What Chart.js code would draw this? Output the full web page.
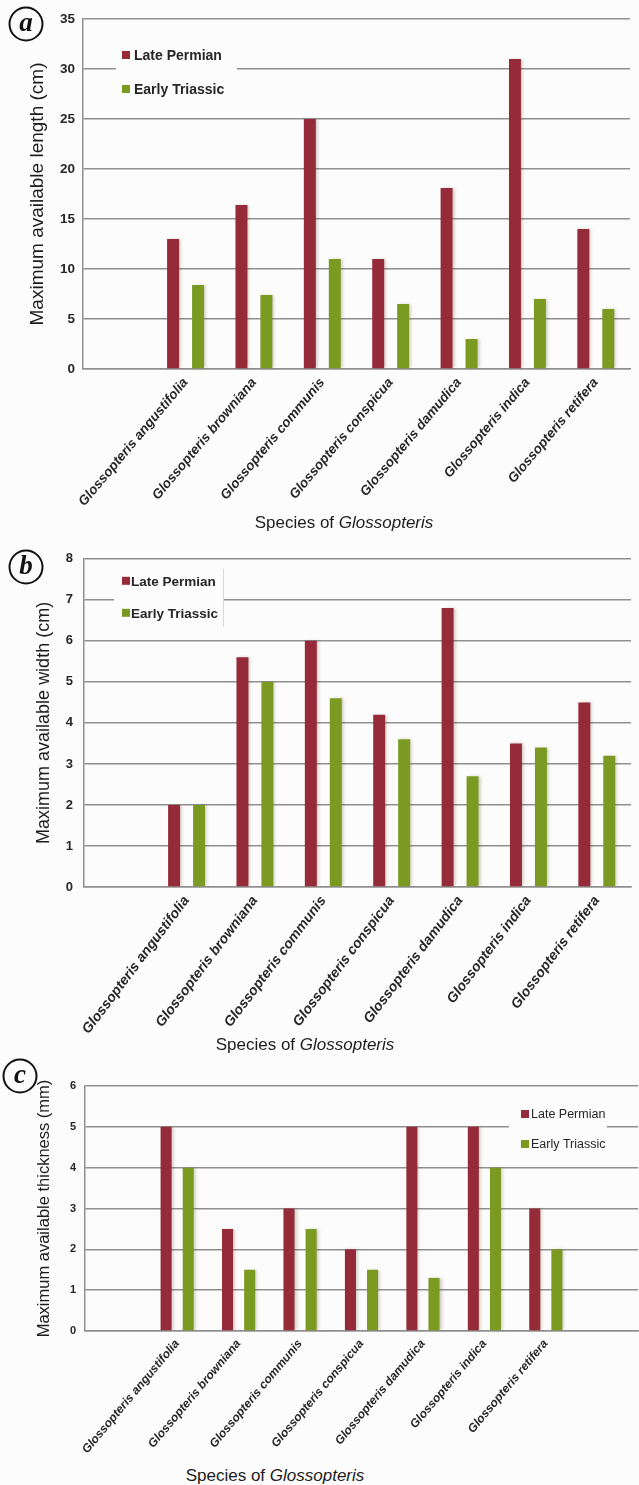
<!DOCTYPE html>
<html>
<head>
<meta charset="utf-8">
<script src="https://cdn.jsdelivr.net/npm/chart.js@4.4.1/dist/chart.umd.min.js"></script>
<style>
  body { margin: 0; background: #fcfcfc; }
  #wrap { position: relative; width: 639px; height: 1485px; background: #fcfcfc; font-family: "Liberation Sans", Arial, sans-serif; }
  canvas { position: absolute; left: 0; }
  .tag { position: absolute; width: 31px; height: 31px; border: 2px solid #111; border-radius: 50%;
         font: italic bold 27px "Liberation Serif", "Times New Roman", serif; color: #111;
         text-align: center; line-height: 27px; transform: translate(-50%, -50%); }
  .xtitle { position: absolute; font-size: 17px; color: #1c1c1c; white-space: nowrap; transform: translate(-50%, -50%); }
</style>
</head>
<body>
<div id="wrap">
  <canvas id="chartA" width="639" height="535" style="top:0px"></canvas>
  <canvas id="chartB" width="639" height="500" style="top:540px"></canvas>
  <canvas id="chartC" width="639" height="400" style="top:1065px"></canvas>
  <div class="tag" style="left:26px; top:24px">a</div>
  <div class="tag" style="left:26px; top:567px">b</div>
  <div class="tag" style="left:20px; top:1076px">c</div>
  <div class="xtitle" style="left:344px; top:523px">Species of <i>Glossopteris</i></div>
  <div class="xtitle" style="left:305px; top:1045px">Species of <i>Glossopteris</i></div>
  <div class="xtitle" style="left:275px; top:1476px">Species of <i>Glossopteris</i></div>
</div>
<script>
const species = [
  'Glossopteris angustifolia', 'Glossopteris browniana', 'Glossopteris communis',
  'Glossopteris conspicua', 'Glossopteris damudica', 'Glossopteris indica', 'Glossopteris retifera'
];
const seriesNames = ['Late Permian', 'Early Triassic'];

// (a) maximum length, cm
const lengthPermian  = [13, 16.4, 25, 11, 18.1, 31, 14];
const lengthTriassic = [8.4, 7.4, 11, 6.5, 3, 7, 6];
// (b) maximum width, cm
const widthPermian   = [2, 5.6, 6, 4.2, 6.8, 3.5, 4.5];
const widthTriassic  = [2, 5, 4.6, 3.6, 2.7, 3.4, 3.2];
// (c) maximum thickness, mm
const thickPermian   = [5, 2.5, 3, 2, 5, 5, 3];
const thickTriassic  = [4, 1.5, 2.5, 1.5, 1.3, 4, 2];

const yTicksA = [0, 5, 10, 15, 20, 25, 30, 35];
const yTicksB = [0, 1, 2, 3, 4, 5, 6, 7, 8];
const yTicksC = [0, 1, 2, 3, 4, 5, 6];

const RED = '#952a38';
const GREEN = '#7b9a22';
const GRID = '#8f8f8f';

// white box with two square swatches, placed inside the plot
const boxLegend = {
  id: 'boxLegend',
  beforeDatasetsDraw(chart, args, o) {
    const {ctx, chartArea} = chart;
    const x0 = chartArea.left + o.x, y0 = chartArea.top + o.y;
    ctx.save();
    ctx.fillStyle = '#fcfcfc';
    ctx.fillRect(x0, y0, o.w, o.h);
    if (o.edge) {
      ctx.strokeStyle = '#d8d8d8';
      ctx.lineWidth = 1;
      ctx.beginPath();
      ctx.moveTo(x0 + o.w + 0.5, y0);
      ctx.lineTo(x0 + o.w + 0.5, y0 + o.h);
      ctx.stroke();
    }
    ctx.font = o.font;
    ctx.textBaseline = 'middle';
    chart.data.datasets.forEach((ds, i) => {
      const y = y0 + o.rows[i];
      ctx.fillStyle = ds.backgroundColor;
      ctx.fillRect(x0 + o.sx, y - 4, 8, 8);
      ctx.fillStyle = '#262626';
      ctx.fillText(ds.label, x0 + o.tx, y + 1);
    });
    ctx.restore();
  }
};

// soft shadow to the right of each bar
const barShade = {
  id: 'barShade',
  beforeDatasetsDraw(chart) {
    const c = chart.ctx;
    c.save();
    c.shadowColor = 'rgba(90,70,30,0.28)';
    c.shadowOffsetX = 2;
    c.shadowBlur = 3;
  },
  afterDatasetsDraw(chart) { chart.ctx.restore(); }
};

function makeChart(id, cfg) {
  // one empty slot before the species (and optionally after)
  const labels = [''].concat(species, cfg.tail ? [''] : []);
  const pad = (arr) => [null].concat(arr, cfg.tail ? [null] : []);
  return new Chart(document.getElementById(id), {
    type: 'bar',
    data: {
      labels: labels,
      datasets: [
        { label: seriesNames[0], data: pad(cfg.permian), backgroundColor: RED },
        { label: seriesNames[1], data: pad(cfg.triassic), backgroundColor: GREEN },
      ],
    },
    plugins: [boxLegend, barShade],
    options: {
      responsive: false,
      animation: false,
      categoryPercentage: cfg.catPct,
      barPercentage: cfg.barPct,
      layout: {
        padding: { top: cfg.padTop, right: cfg.padRight, left: 0, bottom: 0 },
      },
      scales: {
        x: {
          afterFit: (s) => { s.height = cfg.xHeight; },
          grid: { display: false, drawTicks: false },
          border: { color: GRID, width: 1.5 },
          ticks: {
            autoSkip: false,
            minRotation: cfg.rot,
            maxRotation: cfg.rot,
            padding: 6,
            color: '#262626',
            font: { family: 'Liberation Sans', size: cfg.xFont, weight: 'bold', style: 'italic' },
          },
        },
        y: {
          min: 0,
          max: cfg.yTicks[cfg.yTicks.length - 1],
          afterFit: (s) => { s.width = cfg.yWidth; },
          afterBuildTicks: (s) => { s.ticks = cfg.yTicks.map(v => ({ value: v })); },
          grid: { color: GRID, lineWidth: 1.5, drawTicks: false },
          border: { color: GRID, width: 1.5 },
          ticks: {
            padding: cfg.yPad,
            color: '#262626',
            font: { family: 'Liberation Sans', size: cfg.yFont, weight: 'bold' },
          },
          title: {
            display: true,
            text: cfg.yTitle,
            color: '#1c1c1c',
            padding: { top: cfg.titlePad, bottom: 0 },
            font: { family: 'Liberation Sans', size: cfg.titleFont },
          },
        },
      },
      plugins: {
        legend: { display: false },
        tooltip: { enabled: false },
        boxLegend: cfg.legend,
      },
    },
  });
}

makeChart('chartA', {
  permian: lengthPermian, triassic: lengthTriassic, yTicks: yTicksA,
  yTitle: 'Maximum available length (cm)', titleFont: 19, titlePad: 26,
  yFont: 13.5, yPad: 8, yWidth: 83, xHeight: 166, padTop: 19, padRight: 9,
  rot: 50, xFont: 13.5, catPct: 0.73, barPct: 0.48,
  legend: { x: 33, y: 19, w: 121, h: 66, rows: [17, 51], sx: 6, tx: 18, font: 'bold 14px "Liberation Sans"' },
});

makeChart('chartB', {
  permian: widthPermian, triassic: widthTriassic, yTicks: yTicksB,
  yTitle: 'Maximum available width (cm)', titleFont: 18, titlePad: 33,
  yFont: 13, yPad: 11, yWidth: 84, xHeight: 153, padTop: 17, padRight: 8,
  rot: 53, xFont: 14, catPct: 0.73, barPct: 0.48,
  legend: { x: 30, y: 10, w: 109, h: 58, rows: [12, 44], sx: 8, tx: 17, edge: true, font: 'bold 13.5px "Liberation Sans"' },
});

makeChart('chartC', {
  permian: thickPermian, triassic: thickTriassic, yTicks: yTicksC, tail: true,
  yTitle: 'Maximum available thickness (mm)', titleFont: 16.5, titlePad: 35,
  yFont: 11, yPad: 9, yWidth: 85, xHeight: 134, padTop: 21, padRight: 1,
  rot: 50, xFont: 12, catPct: 0.72, barPct: 0.5,
  legend: { x: 424, y: 12, w: 98, h: 62, rows: [16, 46], sx: 12, tx: 22, font: '12.5px "Liberation Sans"' },
});
</script>
</body>
</html>
